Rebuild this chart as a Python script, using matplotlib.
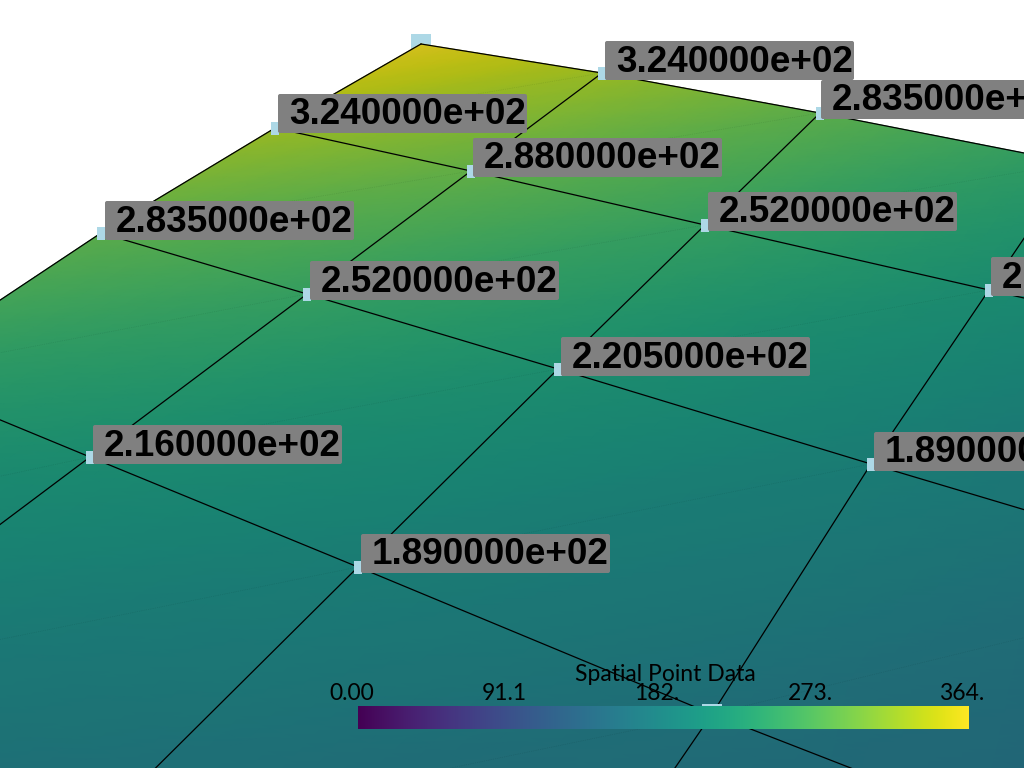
import numpy as np
import matplotlib
matplotlib.use("Agg")
import matplotlib.pyplot as plt
import matplotlib.tri as mtri
from matplotlib.colors import ListedColormap
from matplotlib.patches import FancyBboxPatch

# mesh vertices as they land on screen after the 3d view
vert_x = np.array([
    [421, 602, 820, 1075, 1370],
    [275, 471, 705, 989, 1330],
    [101, 307, 558, 871, 1260],
    [-111, 90, 358, 712, 1190],
    [-390, -210, 78, 480, 1060],
], dtype=float)
vert_y = np.array([
    [44, 73, 113, 163, 222],
    [128, 171, 225, 290, 368],
    [233, 294, 369, 464, 580],
    [374, 457, 567, 714, 900],
    [560, 682, 845, 1052, 1340],
], dtype=float)
# spatial point data on the same vertices
vert_val = np.array([
    [364.5, 324.0, 283.5, 243.0, 202.5],
    [324.0, 288.0, 252.0, 216.0, 180.0],
    [283.5, 252.0, 220.5, 189.0, 157.5],
    [243.0, 216.0, 189.0, 162.0, 135.0],
    [202.5, 180.0, 157.5, 135.0, 112.5],
])

# labelled points: (row, col) in the mesh, text, top left corner of the grey box
label_row = [1, 0, 0, 1, 1, 1, 2, 2, 2, 3, 2, 3]
label_col = [0, 1, 2, 1, 2, 3, 0, 1, 2, 1, 3, 2]
label_txt = ["3.240000e+02", "3.240000e+02", "2.835000e+02", "2.880000e+02",
             "2.520000e+02", "2.160000e+02", "2.835000e+02", "2.520000e+02",
             "2.205000e+02", "2.160000e+02", "1.890000e+02", "1.890000e+02"]
label_x = [278, 605, 821, 473, 708, 991, 105, 310, 561, 93, 874, 361]
label_y = [94, 41, 80, 138, 192, 257, 201, 261, 337, 425, 432, 534]

bar_ticks = ["0.00", "91.1", "182.", "273.", "364."]
bar_tick_x = [352, 504, 657, 810, 962]
bar_min, bar_max = 0.0, 364.5

fig = plt.figure(figsize=(10.24, 7.68), dpi=100)
ax = fig.add_axes([0, 0, 1, 1])
ax.set_xlim(0, 1024)
ax.set_ylim(768, 0)
ax.axis('off')

# surface is viridis dimmed by the scene lighting
lit = plt.cm.viridis(np.linspace(0, 1, 256))
lit[:, :3] *= 0.83
lit_cmap = ListedColormap(lit)

nr, nc = vert_x.shape
tris = []
for r in range(nr-1):
    for c in range(nc-1):
        a = r*nc + c
        b = a + 1
        d = (r+1)*nc + c
        e = d + 1
        tris.append([a, b, d])
        tris.append([b, e, d])
tri = mtri.Triangulation(vert_x.ravel(), vert_y.ravel(), np.array(tris))
refiner = mtri.UniformTriRefiner(tri)
fine_tri, fine_val = refiner.refine_field(vert_val.ravel(),
                                          triinterpolator=mtri.LinearTriInterpolator(tri, vert_val.ravel()),
                                          subdiv=4)

# apex point sits half behind the surface
ax.scatter([vert_x[0, 0]], [vert_y[0, 0]], marker='s', s=(20*0.72)**2, color='lightblue', linewidths=0, zorder=1)
ax.tripcolor(fine_tri, fine_val, shading='gouraud', cmap=lit_cmap, vmin=bar_min, vmax=bar_max, zorder=2)

# mesh edges
for r in range(nr):
    ax.plot(vert_x[r, :], vert_y[r, :], color='black', lw=0.9, zorder=3)
for c in range(nc):
    ax.plot(vert_x[:, c], vert_y[:, c], color='black', lw=0.9, zorder=3)
# faint triangle seams
for r in range(nr-1):
    for c in range(nc-1):
        ax.plot([vert_x[r, c+1], vert_x[r+1, c]], [vert_y[r, c+1], vert_y[r+1, c]],
                color='black', lw=0.5, ls=':', alpha=0.12, zorder=3)

pt_x = [vert_x[r, c] for r, c in zip(label_row, label_col)]
pt_y = [vert_y[r, c] for r, c in zip(label_row, label_col)]
tall_box = [(-0.62, -1), (0.62, -1), (0.62, 1), (-0.62, 1)]
ax.scatter(pt_x, pt_y, marker=tall_box, s=(13*0.72)**2, color='lightblue', linewidths=0, zorder=4)
ax.scatter([vert_x[3, 3]], [vert_y[3, 3]], marker='s', s=(20*0.72)**2, color='lightblue', linewidths=0, zorder=4)

for i in range(len(label_txt)):
    box = FancyBboxPatch((label_x[i], label_y[i]), 249, 39, boxstyle='round,pad=0,rounding_size=2',
                         facecolor='#808080', edgecolor='none', zorder=5+i*0.01)
    ax.add_patch(box)
    ax.text(label_x[i]+11, label_y[i]+17, label_txt[i], family='Liberation Sans', weight='bold',
            fontsize=26.6, color='black', ha='left', va='center_baseline', zorder=5+i*0.01)

# scalar bar
grad = np.linspace(bar_min, bar_max, 256).reshape(1, -1)
ax.imshow(grad, cmap='viridis', vmin=bar_min, vmax=bar_max, extent=[358, 969, 729, 706], aspect='auto', zorder=7)
ax.set_xlim(0, 1024)
ax.set_ylim(768, 0)
for t, x in zip(bar_ticks, bar_tick_x):
    ax.text(x, 700, t, family='Lato', fontsize=16.5, color='black', ha='center', va='baseline', zorder=8)
ax.text(665, 681, "Spatial Point Data", family='Lato', fontsize=16.5, color='black',
        ha='center', va='baseline', zorder=8)

fig.savefig("out.png", dpi=100, facecolor='white')
